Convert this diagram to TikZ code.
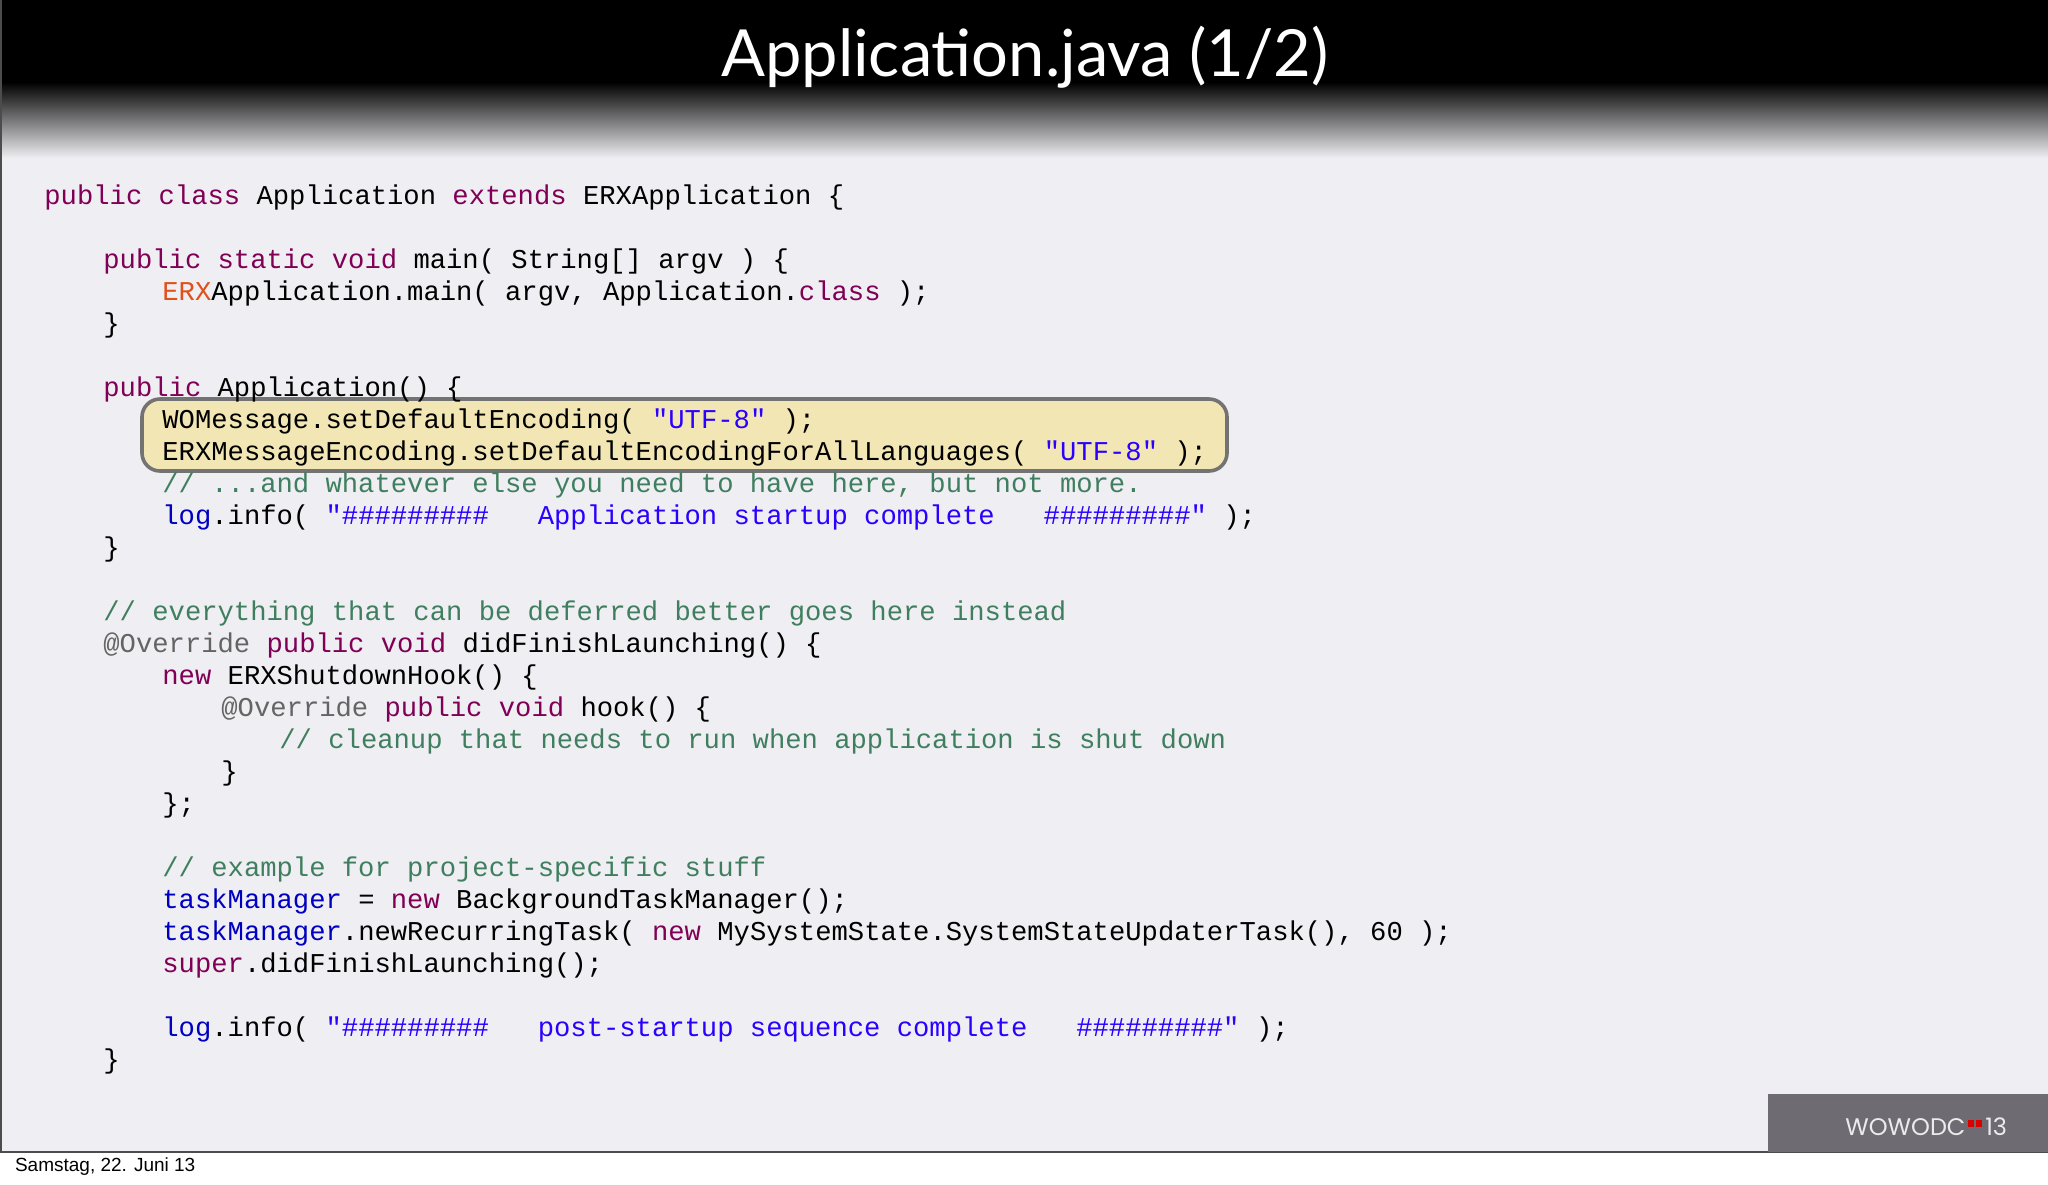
\documentclass[tikz,border=0pt]{standalone}
\usepackage{fontspec}
\setmainfont{Liberation Sans}
\newfontfamily\codefont{Liberation Mono}
\newfontfamily\titlefont{Lato}
\newfontfamily\logofont{Poppins}
\definecolor{bgc}{HTML}{EFEEF2}
\definecolor{kwc}{HTML}{7F0055}
\definecolor{strc}{HTML}{2A00FF}
\definecolor{cmc}{HTML}{3F7F5F}
\definecolor{fldc}{HTML}{0000C0}
\definecolor{anc}{HTML}{646464}
\definecolor{erxc}{HTML}{E0501A}
\definecolor{hlc}{HTML}{F2E7B4}
\definecolor{logoc}{HTML}{6E6B72}
\newcommand\kw[1]{\textcolor{kwc}{#1}}
\newcommand\str[1]{\textcolor{strc}{#1}}
\newcommand\cm[1]{\textcolor{cmc}{#1}}
\newcommand\fld[1]{\textcolor{fldc}{#1}}
\newcommand\an[1]{\textcolor{anc}{#1}}
\tikzset{code/.style={anchor=base west,inner sep=0pt,font=\codefont\fontsize{13.6}{16}\selectfont,text=black},
logotext/.style={text=white!92!black,font=\logofont\fontsize{12}{14}\selectfont,inner sep=0pt,anchor=base west}}
\begin{document}
\begin{tikzpicture}[x=0.5pt,y=-0.5pt]
\useasboundingbox (0,0) rectangle (2048,1184);
\fill[white] (0,0) rectangle (2048,1184);
\fill[bgc] (0,0) rectangle (2048,1152);
\fill[black] (0,0) rectangle (2048,82);
\shade[top color=black,bottom color=bgc] (0,82) rectangle (2048,158);
\draw[black!70,line width=1pt] (0.5,0) -- (0.5,1152) -- (2048,1152);
\node[text=white,font=\titlefont\fontsize{32.5}{36}\selectfont] (title) at (1025,57) {Application.java (1/2)};
% highlight
\draw[rounded corners=9pt,fill=hlc,draw=black!55,line width=1.8pt] (142,399) rectangle (1227,471);
\def\la{44}\def\lb{103}\def\lc{162}\def\ld{221}\def\le{279}
\node[code] (c1) at (\la,204) {\kw{public class} Application \kw{extends} ERXApplication \{};
\node[code] (c2) at (\lb,268) {\kw{public static void} main( String[] argv ) \{};
\node[code] (c3) at (\lc,300) {\textcolor{erxc}{ERX}Application.main( argv, Application.\kw{class} );};
\node[code] (c4) at (\lb,332) {\}};
\node[code] (c5) at (\lb,396) {\kw{public} Application() \{};
\node[code] (c6) at (\lc,428) {WOMessage.setDefaultEncoding( \str{"UTF-8"} );};
\node[code] (c7) at (\lc,460) {ERXMessageEncoding.setDefaultEncodingForAllLanguages( \str{"UTF-8"} );};
\node[code] (c8) at (\lc,492) {\cm{// ...and whatever else you need to have here, but not more.}};
\node[code] (c9) at (\lc,524) {\fld{log}.info( \str{"\#\#\#\#\#\#\#\#\#\ \ \ Application startup complete\ \ \ \#\#\#\#\#\#\#\#\#"} );};
\node[code] (c10) at (\lb,556) {\}};
\node[code] (c11) at (\lb,620) {\cm{// everything that can be deferred better goes here instead}};
\node[code] (c12) at (\lb,652) {\an{@Override} \kw{public void} didFinishLaunching() \{};
\node[code] (c13) at (\lc,684) {\kw{new} ERXShutdownHook() \{};
\node[code] (c14) at (\ld,716) {\an{@Override} \kw{public void} hook() \{};
\node[code] (c15) at (\le,748) {\cm{// cleanup that needs to run when application is shut down}};
\node[code] (c16) at (\ld,780) {\}};
\node[code] (c17) at (\lc,812) {\};};
\node[code] (c18) at (\lc,876) {\cm{// example for project-specific stuff}};
\node[code] (c19) at (\lc,908) {\fld{taskManager} = \kw{new} BackgroundTaskManager();};
\node[code] (c20) at (\lc,940) {\fld{taskManager}.newRecurringTask( \kw{new} MySystemState.SystemStateUpdaterTask(), 60 );};
\node[code] (c21) at (\lc,972) {\kw{super}.didFinishLaunching();};
\node[code] (c22) at (\lc,1036) {\fld{log}.info( \str{"\#\#\#\#\#\#\#\#\#\ \ \ post-startup sequence complete\ \ \ \#\#\#\#\#\#\#\#\#"} );};
\node[code] (c23) at (\lb,1068) {\}};
% logo box
\fill[logoc] (1768,1094) rectangle (2048,1152);
\node[logotext] (logo) at (1845,1135) {WOWODC};
\fill[red!85!black] ([xshift=1pt]logo.base east) ++(0,-8) rectangle ++(6,-7);
\fill[red!85!black] ([xshift=5pt]logo.base east) ++(0,-8) rectangle ++(6,-7);
\node[logotext] (yr) at ([xshift=9.5pt]logo.base east) {13};
\node[anchor=west,font=\fontsize{9.5}{11}\selectfont,text=black] (date) at (8,1167) {Samstag, 22. Juni 13};
\end{tikzpicture}
\end{document}
